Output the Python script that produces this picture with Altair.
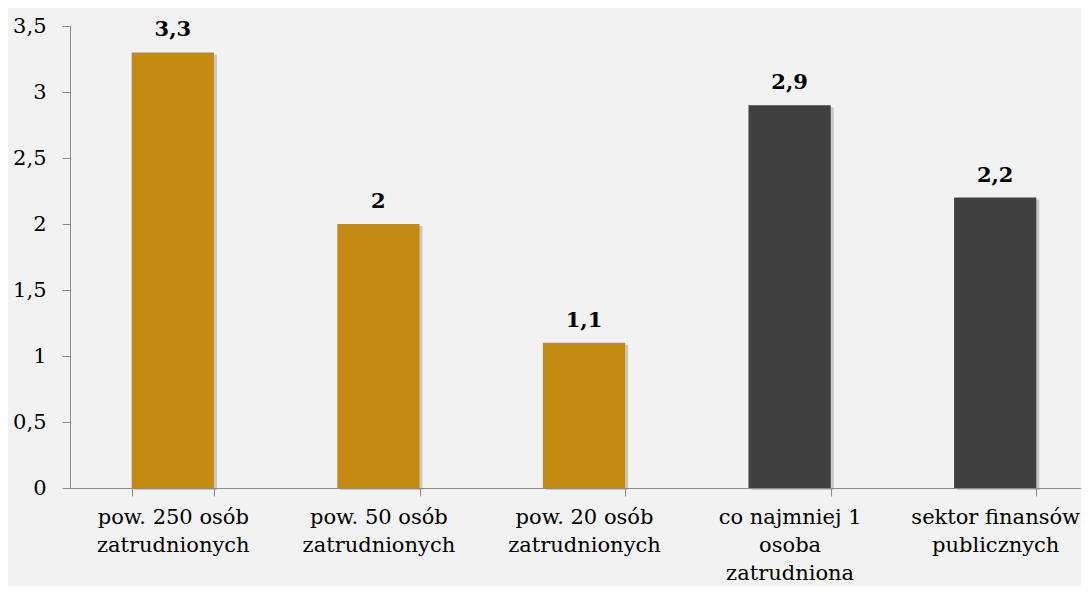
import altair as alt
import pandas as pd

categories = [
    "pow. 250 osób\nzatrudnionych",
    "pow. 50 osób\nzatrudnionych",
    "pow. 20 osób\nzatrudnionych",
    "co najmniej 1\nosoba\nzatrudniona",
    "sektor finansów\npublicznych",
]
values = [3.3, 2.0, 1.1, 2.9, 2.2]
groups = ["firmy", "firmy", "firmy", "ogółem", "sektor"]
colors = ["#C48A12", "#C48A12", "#C48A12", "#404040", "#404040"]
y_ticks = [0, 0.5, 1, 1.5, 2, 2.5, 3, 3.5]

df = pd.DataFrame({"kat": categories, "val": values, "grp": groups, "col": colors})

FONT = "DejaVu Serif"
FS = 21

x = alt.X(
    "kat:N",
    sort=categories,
    title=None,
    scale=alt.Scale(paddingInner=0.6, paddingOuter=0.3, range=[0, 1028]),
    axis=alt.Axis(
        labelAngle=0,
        labelExpr="split(datum.label, '\\n')",
        labelFontSize=21,
        labelFont=FONT,
        labelColor="#000000",
        labelLineHeight=28,
        labelPadding=10,
        tickBand="extent",
        tickSize=8,
        tickColor="#8c8c8c",
        domainColor="#8c8c8c",
        labelLimit=400,
        labelOverlap=False,
    ),
)
y = alt.Y(
    "val:Q",
    title=None,
    scale=alt.Scale(domain=[0, 3.5], nice=False),
    axis=alt.Axis(
        values=y_ticks,
        labelExpr="replace(format(datum.value, '~g'), '.', ',')",
        labelFontSize=FS,
        labelFont=FONT,
        labelColor="#000000",
        labelPadding=16,
        tickSize=8,
        tickColor="#8c8c8c",
        domainColor="#8c8c8c",
        grid=False,
    ),
)

base = alt.Chart(df)

shadow = base.mark_bar(color="#8a8a8a", opacity=0.4, xOffset=3, yOffset=2).encode(x=x, y=y)
bars = base.mark_bar().encode(x=x, y=y, color=alt.Color("col:N", scale=None))
text = base.transform_calculate(
    lab="replace(toString(datum.val), '.', ',')"
).mark_text(
    font=FONT, fontSize=FS, fontWeight="bold", baseline="alphabetic", dy=-16, color="#000000"
).encode(x=x, y=y, text="lab:N")

chart = (
    alt.layer(shadow, bars, text)
    .properties(
        width=1011,
        height=462,
        background="#F2F2F2",
        autosize=alt.AutoSizeParams(type="none"),
        padding={"left": 62, "top": 18, "right": 0, "bottom": 98},
    )
    .configure_view(stroke=None)
)

chart.save("out.html", embed_options={"renderer": "svg", "actions": False})
